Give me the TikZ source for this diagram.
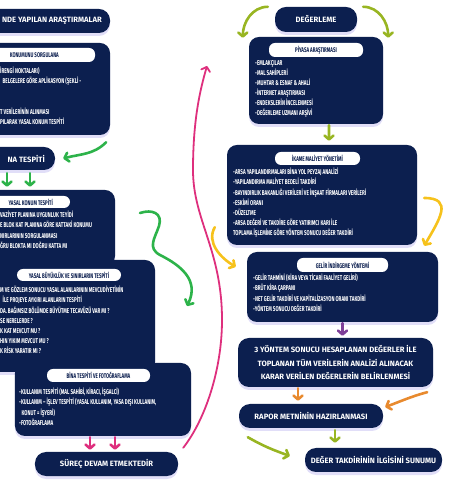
\documentclass[tikz,border=0pt]{standalone}
\usepackage{fontspec}
\setmainfont{Fira Sans}
\newfontfamily\dar[FakeStretch=0.65]{Fira Sans}
\usetikzlibrary{arrows.meta,positioning,calc,shadows}
\definecolor{lacivert}{HTML}{0C1F4F}
\definecolor{yesil}{HTML}{2DB34A}
\definecolor{zeytin}{HTML}{98B522}
\definecolor{sari}{HTML}{F6C21C}
\definecolor{mor}{HTML}{7E3F98}
\definecolor{turuncu}{HTML}{E88A2E}
\definecolor{pembe}{HTML}{DE2F7D}
\definecolor{golge}{HTML}{D9D6F6}
\tikzset{
  kutu/.style    = {fill=lacivert, rounded corners=10bp, inner sep=0pt,
                    drop shadow={shadow xshift=0bp, shadow yshift=-3bp,
                    fill=golge, opacity=0.8}},
  baslik/.style  = {kutu, rounded corners=11bp, text=white, align=center,
                    font=\bfseries\fontsize{7.7}{14}\selectfont},
  basyazi/.style = {text=white, inner sep=0pt,
                    font=\bfseries\fontsize{7.7}{8}\selectfont},
  etiket/.style  = {fill=white, rounded corners=6bp, inner sep=0pt},
  etyazi/.style  = {text=lacivert, inner sep=0pt,
                    font=\dar\bfseries\fontsize{6.8}{7}\selectfont},
  yazi/.style    = {text=white, inner sep=0pt, align=left,
                    font=\dar\bfseries\fontsize{7}{10.2}\selectfont},
  ok/.style      = {line width=2.6bp, line cap=round,
                    -{Straight Barb[length=4bp, width=9bp, round]}},
}
\begin{document}
\begin{tikzpicture}[x=1bp, y=1bp]
\useasboundingbox (0,0) rectangle (466,480);
\clip (0,0) rectangle (466,480);
% ---------- sol sutun ----------
\node[baslik, minimum width=130bp, minimum height=24bp] (arastirma) at (45,459) {};
\node[basyazi, anchor=east] (arastirmayazi) at (102,459) {NDE YAPILAN ARAŞTIRMALAR};
\node[kutu, minimum width=130bp, minimum height=92bp] (sorgu) at (45,391) {};
\node[etiket, minimum width=115bp, minimum height=14bp] (sorguetk) at (37.5,425) {};
\node[etyazi, anchor=east] (sorguetkyazi) at (59,425) {KONUMUNU SORGULANA};
\node[yazi, anchor=north west] (sorgumetin) at (0,413) {İRENGİ NOKTALARI)\\
  \hspace*{2.5bp}BELGELERE GÖRE APLİKASYON (ŞEKLİ -\\ \mbox{}\\ \mbox{}\\
  T VERİLERİNİN ALINMASI\\ PILARAK YASAL KONUM TESPİTİ};
\node[baslik, minimum width=75bp, minimum height=23bp] (tespit) at (17.5,321.5) {};
\node[basyazi, anchor=east] (tespityazi) at (45,321.5) {NA TESPİTİ};
\node[kutu, minimum width=135bp, minimum height=76bp] (konum) at (47.5,252) {};
\node[etiket, minimum width=90bp, minimum height=12bp] (konumetk) at (25,278) {};
\node[etyazi, anchor=east] (konumetkyazi) at (53,278) {YASAL KONUM TESPİTİ};
\node[yazi, anchor=north west] (konummetin) at (0,269) {VAZİYET PLANINA UYGUNLUK TEYİDİ\\
  E BLOK KAT PLANINA GÖRE KATTAKİ KONUMU\\ NIRLARININ SORGULANMASI\\
  ĞRU BLOKTA MI DOĞRU KATTA MI};
\node[kutu, minimum width=175bp, minimum height=112bp] (buyukluk) at (67.5,164) {};
\node[etiket, etyazi, minimum width=104bp, minimum height=12bp] (buyukluketk) at (69,205) {YASAL BÜYÜKLÜK VE SINIRLARIN TESPİTİ};
\node[yazi, anchor=north west] (buyuklukmetin) at (0,194) {M VE GÖZLEM SONUCU YASAL ALANLARININ MEVCUDİYETİNİN\\
  \hspace*{2.5bp}İLE PROJEYE AYKIRI ALANLARIN TESPİTİ\\ DA. BAĞIMSIZ BÖLÜMDE BÜYÜTME TECAVÜZÜ VAR MI ?\\
  SE NERELERDE ?\\ K KAT MEVCUT MU ?\\ HIN YIKIM MEVCUT MU ?\\ K RİSK YARATIR MI ?};
\node[kutu, minimum width=176bp, minimum height=73bp] (bina) at (103,80.5) {};
\node[etiket, etyazi, minimum width=103bp, minimum height=13bp] (binaetk) at (98.5,104.5) {BİNA TESPİTİ VE FOTOĞRAFLAMA};
\node[yazi, anchor=north west] (binametin) at (19,92) {-KULLANIM TESPİTİ (MAL SAHİBİ, KİRACI, İŞGALCİ)\\
  -KULLANIM – İŞLEV TESPİTİ (YASAL KULLANIM, YASA DIŞI KULLANIM,\\
  \hspace*{2.5bp}KONUT = İŞYERİ)\\ -FOTOĞRAFLAMA};
\node[baslik, minimum width=143bp, minimum height=24bp] (surec) at (106.5,16) {SÜREÇ DEVAM ETMEKTEDİR};
% ---------- sag sutun ----------
\node[baslik, minimum width=82bp, minimum height=25bp] (degerleme) at (316,460.5) {DEĞERLEME};
\node[kutu, minimum width=134bp, minimum height=87bp] (piyasa) at (316,399.5) {};
\node[etiket, etyazi, minimum width=94bp, minimum height=14bp] (piyasaetk) at (316,430) {PİYASA ARAŞTIRMASI};
\node[yazi, anchor=north west] (piyasametin) at (255,420) {-EMLAKÇILAR\\ -MAL SAHİPLERİ\\
  -MUHTAR \& ESNAF \& AHALİ\\ -İNTERNET ARAŞTIRMASI\\ -ENDEKSLERİN İNCELENMESİ\\
  -DEĞERLEME UZMANI ARŞİVİ};
\node[kutu, minimum width=190bp, minimum height=100bp] (ikame) at (322,285) {};
\node[etiket, etyazi, minimum width=85bp, minimum height=13bp] (ikameetk) at (317.5,321.5) {İKAME MALİYET YÖNETİMİ};
\node[yazi, anchor=north west] (ikamemetin) at (233,312) {-ARSA YAPILANDIRMALARI BİNA YOL PEYZAJ ANALİZİ\\
  -YAPILANDIRMA MALİYET BEDELİ TAKDİRİ\\
  -BAYINDIRLIK BAKANLIĞI VERİLERİ VE İNŞAAT FİRMALARI VERİLERİ\\
  -ESKİMİ ORANI\\ -DÜZELTME\\ -ARSA DEĞERİ VE TAKDİRE GÖRE YATIRIMCI KARI İLE\\
  TOPLAMA İŞLEMİNE GÖRE YÖNTEM SONUCU DEĞER TAKDİRİ};
\node[kutu, minimum width=191bp, minimum height=70bp] (gelir) at (342.5,193) {};
\node[etiket, etyazi, minimum width=91bp, minimum height=14bp] (geliretk) at (342.5,215) {GELİR İNDİRGEME YÖNTEMİ};
\node[yazi, anchor=north west] (gelirmetin) at (253,206) {-GELİR TAHMİNİ (KİRA VEYA TİCARİ FAALİYET GELİRİ)\\
  -BRÜT KİRA ÇARPANI\\ -NET GELİR TAKDİRİ VE KAPİTALİZASYON ORANI TAKDİRİ\\
  -YÖNTEM SONUCU DEĞER TAKDİRİ};
\node[baslik, minimum width=195bp, minimum height=49bp] (analiz) at (335.5,117.5) {3 YÖNTEM SONUCU HESAPLANAN DEĞERLER İLE\\
  TOPLANAN TÜM VERİLERİN ANALİZİ ALINACAK\\ KARAR VERİLEN DEĞERLERİN BELİRLENMESİ};
\node[baslik, minimum width=144bp, minimum height=24bp] (rapor) at (311,64) {RAPOR METNİNİN HAZIRLANMASI};
\node[baslik, minimum width=137bp, minimum height=24bp] (sunum) at (373.5,20) {DEĞER TAKDİRİNİN İLGİSİNİ SUNUMU};
% ---------- oklar ----------
\coordinate (s1) at (7,0);
\coordinate (s2) at (30,0);
\coordinate (p1) at (90,0);
\coordinate (p2) at (115,0);
\draw[ok, yesil] ([xshift=-4bp, yshift=-7bp]sorgu.south east) to[out=225, in=15] ([xshift=8bp]tespit.east);
\draw[ok, yesil, shorten <=3bp, shorten >=3bp] (tespit.south -| s1) -- (konum.north -| s1);
\draw[ok, yesil, shorten <=3bp, shorten >=3bp] (tespit.south -| s2) -- (konum.north -| s2);
\draw[ok, pembe, shorten <=1bp, shorten >=2bp] (bina.south -| p1) -- (surec.north -| p1);
\draw[ok, pembe, shorten <=1bp, shorten >=2bp] (bina.south -| p2) -- (surec.north -| p2);
% kivrik yesil ok
\coordinate (kivrikbas) at (140,267);
\coordinate (kivrikuc) at (187,174);
\draw[ok, yesil] (kivrikbas) .. controls (152,271) and (163,267) .. (159,254)
  .. controls (155,242) and (147,232) .. (160,225)
  .. controls (180,215) and (200,200) .. (kivrikuc);
% uzun pembe ok
\coordinate (pembeuc) at (207,414);
\draw[ok, pembe, line width=1.8bp] ([xshift=5bp, yshift=4bp]surec.north east)
  .. controls (205,60) and (222,110) .. (222,160)
  .. controls (222,230) and (193,260) .. (193,310)
  .. controls (193,360) and (200,390) .. (pembeuc);
% sag taraf
\draw[ok, zeytin] ([xshift=-7bp]degerleme.north west) to[out=180, in=90] ([xshift=-6bp, yshift=-1bp]piyasa.north west);
\draw[ok, zeytin] ([xshift=6bp]degerleme.north east) to[out=0, in=90] ([xshift=5bp, yshift=-1bp]piyasa.north east);
\draw[ok, zeytin, shorten <=1bp, shorten >=4bp] ([xshift=13bp]piyasa.south) -- ([xshift=7bp]ikame.north);
\draw[ok, sari] ([xshift=7bp, yshift=-3bp]ikame.east) to[out=0, in=60, looseness=1.6] ([xshift=-14bp, yshift=6bp]gelir.north east);
\draw[ok, sari] ([xshift=-12bp, yshift=18bp]ikame.south west) to[out=240, in=150] ([xshift=-11bp, yshift=-15bp]gelir.north west);
\draw[ok, mor, shorten <=1bp, shorten >=2bp] (gelir.south) -- (gelir.south |- analiz.north);
\draw[ok, turuncu, shorten <=1bp, shorten >=3bp] ([xshift=-37.5bp]analiz.south) -- ([xshift=-37.5bp]analiz.south |- rapor.north);
\draw[ok, turuncu] ([xshift=-6bp, yshift=-5bp]analiz.south east) to[out=195, in=20] ([xshift=2bp, yshift=9bp]rapor.east);
\draw[ok, zeytin, shorten <=2bp, shorten >=5bp] ([xshift=24bp]rapor.south) -- ([xshift=24bp]rapor.south |- sunum.north);
\draw[ok, zeytin] ([xshift=9bp, yshift=-9bp]rapor.south west) to[out=-30, in=160] ([xshift=-15bp, yshift=4bp]sunum.west);
\end{tikzpicture}
\end{document}
